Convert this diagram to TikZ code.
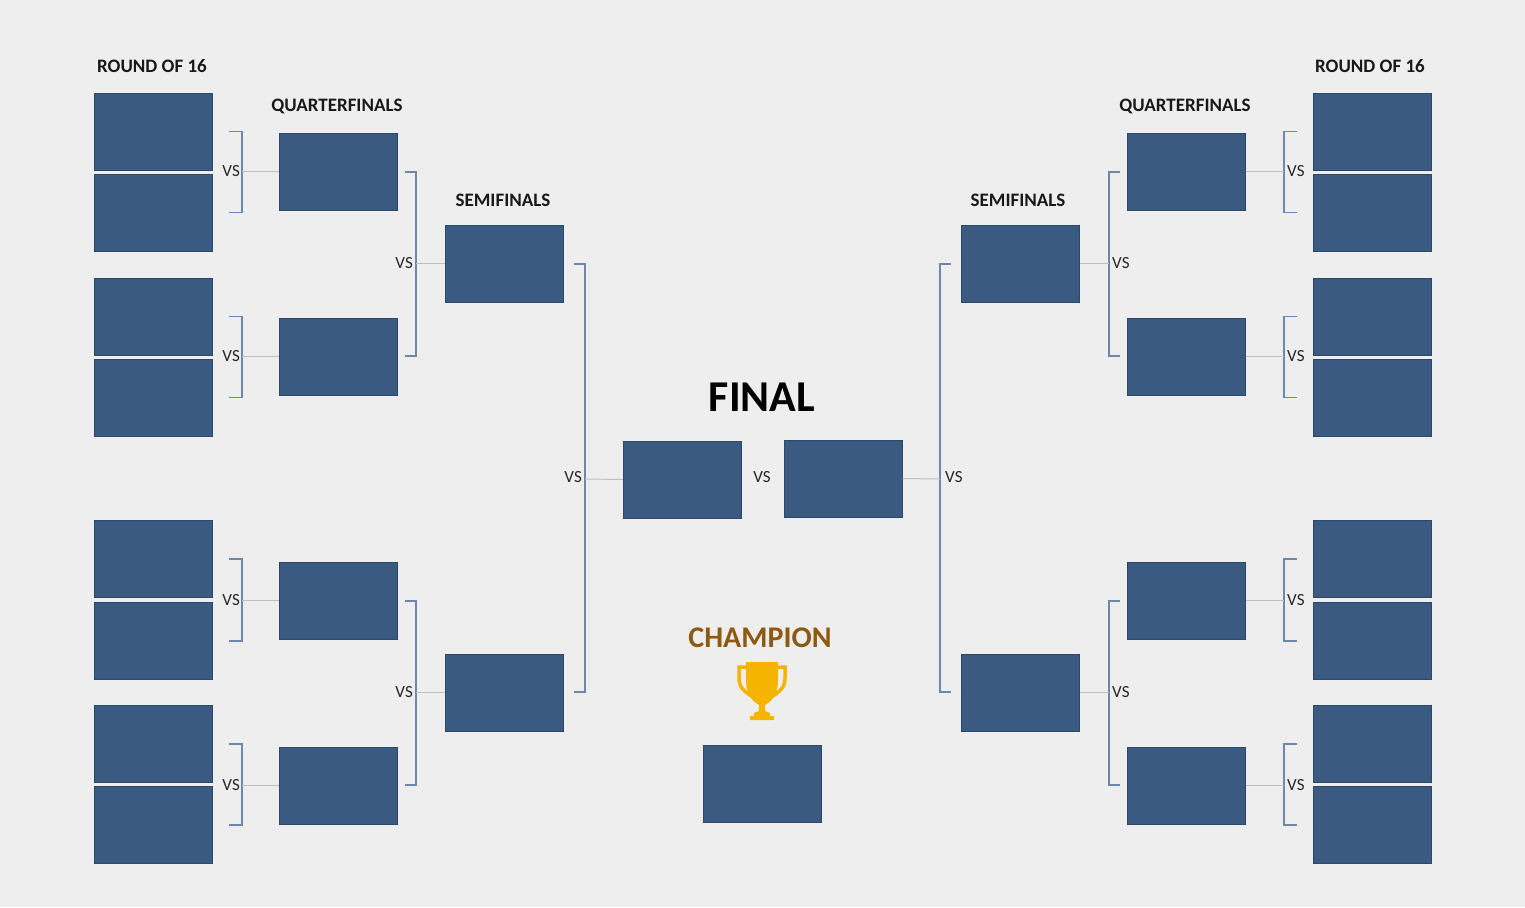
\documentclass[tikz,border=0pt]{standalone}
\usepackage{fontspec}
\setmainfont{Carlito}
\begin{document}
\begin{tikzpicture}[x=1pt,y=-1pt,
  box/.style={draw=boxline,fill=boxfill,line width=1pt,minimum width=118pt,minimum height=77pt,inner sep=0pt},
  brk/.style={draw=brkcol,line width=1.3pt},
  gl/.style={draw=black!25,line width=1pt},
  vs/.style={font=\fontsize{17}{17}\selectfont,text=black!85,inner sep=0pt},
  hd/.style={font=\bfseries\fontsize{19}{19}\selectfont,text=black!90,inner sep=0pt}]
\definecolor{boxfill}{HTML}{3A5A82}
\definecolor{boxline}{HTML}{2C4767}
\definecolor{brkcol}{HTML}{6F87A8}
\definecolor{bg}{HTML}{EFEEEF}
\definecolor{champ}{HTML}{8E5A12}
\definecolor{gold}{HTML}{F5B400}
\fill[bg] (0,0) rectangle (1525,907);
\useasboundingbox (0,0) rectangle (1525,907);
% headings
\node[hd] (h1) at (152,66) {ROUND OF 16};
\node[hd] (h2) at (337,106) {QUARTERFINALS};
\node[hd] (h3) at (503,200) {SEMIFINALS};
\node[hd] (h4) at (1370,66) {ROUND OF 16};
\node[hd] (h5) at (1185,106) {QUARTERFINALS};
\node[hd] (h6) at (1018,200) {SEMIFINALS};
\node[font=\bfseries\fontsize{44}{44}\selectfont,inner sep=0pt] (fin) at (762,397) {FINAL};
\node[font=\bfseries\fontsize{30}{30}\selectfont,text=champ,inner sep=0pt] (ch) at (760,638) {CHAMPION};
% R16 + QF brackets, both sides
\foreach \i/\ya/\yb/\yq in {1/131.5/212.5/171.5, 2/316.5/397.5/356.5, 3/559/641/600.5, 4/744/825/785.5}{
  \node[box] (la\i) at (153,\ya) {};
  \node[box] (lb\i) at (153,\yb) {};
  \node[box] (lq\i) at (338.5,\yq) {};
  \draw[brk] (229,\ya) -- (242,\ya) -- (242,\yb) -- (229,\yb);
  \draw[gl] (242,\yq) -- (lq\i.west);
  \node[vs,anchor=east] (lv\i) at (240,\yq) {VS};
  \node[box] (ra\i) at (1372,\ya) {};
  \node[box] (rb\i) at (1372,\yb) {};
  \node[box] (rq\i) at (1186.5,\yq) {};
  \draw[brk] (1297,\ya) -- (1284,\ya) -- (1284,\yb) -- (1297,\yb);
  \draw[gl] (1284,\yq) -- (rq\i.east);
  \node[vs,anchor=west] (rv\i) at (1287,\yq) {VS};
}
% semifinals
\node[box] (ls1) at (504.5,263.5) {};
\node[box] (ls2) at (504.5,692.5) {};
\node[box] (rs1) at (1020.5,263.5) {};
\node[box] (rs2) at (1020.5,692.5) {};
\draw[brk] (405,172) -- (416,172) -- (416,356) -- (405,356);
\draw[brk] (405,601) -- (416,601) -- (416,785) -- (405,785);
\draw[gl] (416,263.5) -- (ls1.west);
\draw[gl] (416,692.5) -- (ls2.west);
\node[vs,anchor=east] (qv1) at (413,263) {VS};
\node[vs,anchor=east] (qv2) at (413,692) {VS};
\draw[brk] (1120,172) -- (1109,172) -- (1109,356) -- (1120,356);
\draw[brk] (1120,601) -- (1109,601) -- (1109,785) -- (1120,785);
\draw[gl] (1109,263.5) -- (rs1.east);
\draw[gl] (1109,692.5) -- (rs2.east);
\node[vs,anchor=west] (qv3) at (1112,263) {VS};
\node[vs,anchor=west] (qv4) at (1112,692) {VS};
% final
\node[box] (f1) at (682,479.5) {};
\node[box] (f2) at (843,478.5) {};
\node[vs] (fv) at (762,477) {VS};
\draw[brk] (574,264) -- (585,264) -- (585,692) -- (574,692);
\draw[brk] (951,264) -- (940,264) -- (940,692) -- (951,692);
\draw[gl] (585,479) -- (f1.west);
\draw[gl] (940,479) -- (f2.east);
\node[vs,anchor=east] (sv1) at (582,477) {VS};
\node[vs,anchor=west] (sv2) at (945,477) {VS};
% champion
\node[box] (cb) at (762.5,783.5) {};
% trophy
\begin{scope}[shift={(762,0)}]
\fill[gold] (-16,662) -- (16,662) -- (16,680) .. controls (16,698) and (6,703) .. (3,705) -- (3,711) -- (8,713) -- (8,716) -- (12,716) -- (12,720) -- (-12,720) -- (-12,716) -- (-8,716) -- (-8,713) -- (-3,711) -- (-3,705) .. controls (-6,703) and (-16,698) .. (-16,680) -- cycle;
\draw[gold,line width=3.5pt] (-16,667) -- (-23,667) -- (-23,678) .. controls (-23,688) and (-17,692) .. (-9,697);
\draw[gold,line width=3.5pt] (16,667) -- (23,667) -- (23,678) .. controls (23,688) and (17,692) .. (9,697);
\end{scope}
\end{tikzpicture}
\end{document}
